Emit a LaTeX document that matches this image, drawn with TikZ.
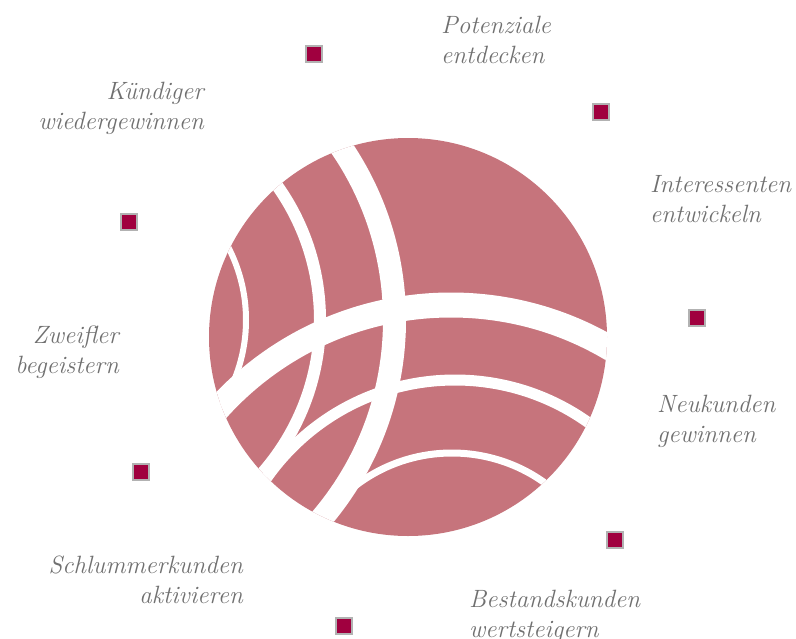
\documentclass[tikz,border=0pt]{standalone}
\usepackage{fontspec}
\usepackage{tikz}
\tikzset{line width=1.0pt}
\definecolor{rose}{HTML}{C6747C}
\definecolor{dotred}{HTML}{A0003F}
\definecolor{labelgray}{HTML}{707070}
\tikzset{
  sq/.style={rectangle,fill=dotred,draw=black!30,line width=1.5pt,minimum size=16pt,inner sep=0pt},
  lbl/.style={text=labelgray,font=\fontsize{25}{30}\selectfont\itshape,inner sep=0pt},
  band/.style={draw=white,line width=#1},
}

\begin{document}
\begin{tikzpicture}[x=1pt,y=-1pt]
  \useasboundingbox (0,0) rectangle (796,638);
  \def\rdisk{199}
  \coordinate (c) at (408,337);

  % disk
  \fill[rose] (c) circle[radius=\rdisk];

  % white cuts
  \begin{scope}
    \clip (c) circle[radius=\rdisk];
    \draw[band=25pt] (451,619) circle[radius=314];
    \draw[band=23pt] (88,320) circle[radius=306.5];
    \draw[band=12pt] (88,320) circle[radius=232];
    \draw[band=6pt] (88,320) circle[radius=158];
    \draw[band=11pt] (455,610) circle[radius=230];
    \draw[band=7pt] (452,612) ++(-128:159) arc[start angle=-128,end angle=-40,radius=159];
  \end{scope}

  % markers
  \node[sq] (s1) at (314,54) {};
  \node[sq] (s2) at (601,112) {};
  \node[sq] (s3) at (697,318) {};
  \node[sq] (s4) at (615,540) {};
  \node[sq] (s5) at (344,626) {};
  \node[sq] (s6) at (141,472) {};
  \node[sq] (s7) at (129,222) {};

  % labels (base = last line)
  \node[lbl,anchor=base west,align=left] (potenziale) at (441,63) {Potenziale\\entdecken};
  \node[lbl,anchor=base west,align=left] (interessenten) at (650,222) {Interessenten\\entwickeln};
  \node[lbl,anchor=base west,align=left] (neukunden) at (657,442) {Neukunden\\gewinnen};
  \node[lbl,anchor=base west,align=left] (bestand) at (469,637) {Bestandskunden\\wertsteigern};
  \node[lbl,anchor=base east,align=right] (schlummer) at (243,603) {Schlummerkunden\\aktivieren};
  \node[lbl,anchor=base east,align=right] (zweifler) at (119,373) {Zweifler\\begeistern};
  \node[lbl,anchor=base east,align=right] (kuendiger) at (204,129) {Kündiger\\wiedergewinnen};
\end{tikzpicture}
\end{document}
